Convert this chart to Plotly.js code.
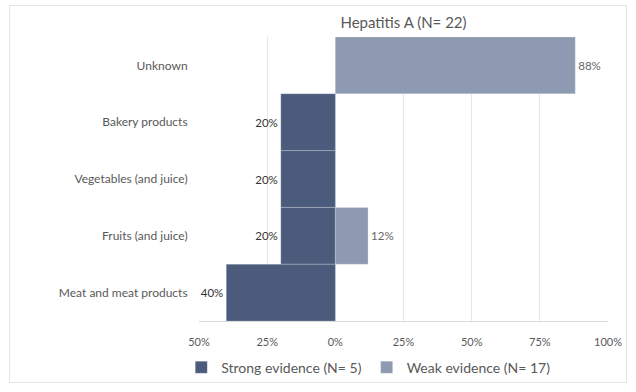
<!DOCTYPE html>
<html><head><meta charset="utf-8">
<script src="https://cdn.plot.ly/plotly-3.0.1.min.js"></script>
<style>
html,body{margin:0;padding:0;background:#fff;}
#frame{position:absolute;left:9px;top:5px;width:618px;height:378px;border:1px solid #e4e4e4;box-sizing:border-box;pointer-events:none;}
#chart{width:636px;height:392px;}
</style></head>
<body>
<div id="chart"></div>
<div id="frame"></div>
<script>
const categories = ["Unknown", "Bakery products", "Vegetables (and juice)", "Fruits (and juice)", "Meat and meat products"];
const strongValues = [null, 0.20, 0.20, 0.20, 0.40];
const weakValues = [0.88, null, null, 0.12, null];
const tickValues = [-0.5, -0.25, 0, 0.25, 0.5, 0.75, 1];
const tickLabels = ["50%", "25%", "0%", "25%", "50%", "75%", "100%"];
const strongName = "Strong evidence (N= 5)";
const weakName = "Weak evidence (N= 17)";
const titleText = "Hepatitis A (N= 22)";

const pct = v => (v == null ? "" : Math.round(v * 100) + "%");
const font = "Lato, 'Open Sans', sans-serif";

const traces = [
  {
    type: "bar", orientation: "h", name: strongName,
    y: categories,
    x: strongValues.map(v => v == null ? null : -v),
    text: strongValues.map(pct),
    textposition: "outside", cliponaxis: false,
    textfont: {family: font, size: 11.5, color: "#333333"},
    marker: {color: "#4b5b7c", line: {color: "rgba(255,255,255,0.2)", width: 1}},
    hoverinfo: "skip"
  },
  {
    type: "bar", orientation: "h", name: weakName,
    y: categories,
    x: weakValues,
    text: weakValues.map(pct),
    textposition: "outside", cliponaxis: false,
    textfont: {family: font, size: 11.5, color: "#666666"},
    marker: {color: "#8d9ab1", line: {color: "rgba(255,255,255,0.2)", width: 1}},
    hoverinfo: "skip"
  }
];

const layout = {
  width: 636, height: 392,
  margin: {l: 199, r: 28, t: 37, b: 71, autoexpand: false},
  paper_bgcolor: "#ffffff", plot_bgcolor: "#ffffff",
  barmode: "relative", bargap: 0,
  font: {family: font, color: "#595959"},
  title: {text: titleText, font: {family: font, size: 15, color: "#595959"}, x: 0.5, xref: "paper", xanchor: "center", y: 0.955, yref: "container"},
  xaxis: {
    range: [-0.5, 1], tickvals: tickValues, ticktext: tickLabels,
    showgrid: true, gridcolor: "#e6e6e6", gridwidth: 1,
    zeroline: false, showline: true, linecolor: "#d9d9d9",
    tickfont: {family: font, size: 11, color: "#595959"},
    ticks: "outside", ticklen: 11, tickcolor: "rgba(0,0,0,0)", fixedrange: true
  },
  yaxis: {
    categoryorder: "array", categoryarray: categories, autorange: "reversed",
    showgrid: false, zeroline: false, showline: false,
    tickfont: {family: font, size: 12, color: "#595959"},
    ticks: "outside", ticklen: 8, tickcolor: "rgba(0,0,0,0)"
  },
  showlegend: true,
  legend: {
    orientation: "h", xref: "container", x: 0.285, xanchor: "left",
    y: 0.062, yref: "container", yanchor: "middle",
    font: {family: font, size: 14, color: "#595959"},
    traceorder: "normal", itemwidth: 30, tracegroupgap: 0
  }
};

Plotly.newPlot("chart", traces, layout, {displayModeBar: false, staticPlot: true});
</script>
</body></html>
